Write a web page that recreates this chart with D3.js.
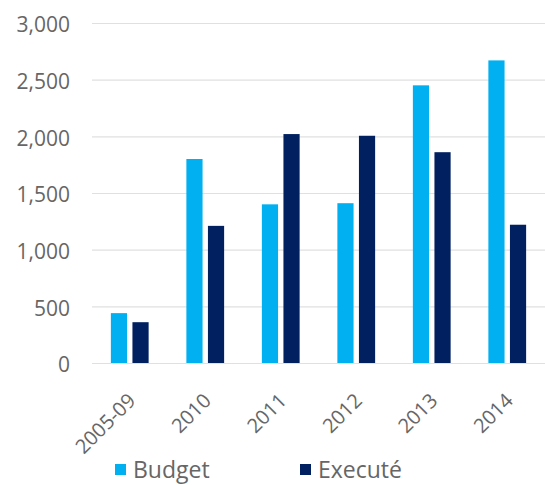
<!DOCTYPE html>
<html>
<head>
<meta charset="utf-8">
<script src="https://cdn.jsdelivr.net/npm/d3@7"></script>
<style>
	body { margin: 0; background: #fff; }
	svg { display: block; font-family: "Open Sans", sans-serif; }
</style>
</head>
<body>
<div id="bar-chart"></div>
<script>
var categories = ["2005-09", "2010", "2011", "2012", "2013", "2014"];
var seriesNames = ["Budget", "Executé"];
var budget = [440, 1800, 1400, 1410, 2450, 2670];
var execute = [360, 1210, 2020, 2005, 1860, 1220];
var yTicks = [0, 500, 1000, 1500, 2000, 2500, 3000];
var colors = ["#00b0f0", "#002060"];

var data = categories.map(function (c, i) {
	return { cat: c, values: [budget[i], execute[i]] };
});

var W = 545, H = 485;
var margin = { top: 23, right: 0, bottom: 122, left: 92 };

var svg = d3.select("#bar-chart").append("svg")
	.attr("width", W)
	.attr("height", H);

var x0 = d3.scaleBand()
	.domain(categories)
	.range([margin.left, W - margin.right])
	.paddingInner(0.5)
	.paddingOuter(0.25);

var x1 = d3.scaleBand()
	.domain(seriesNames)
	.range([0, x0.bandwidth()])
	.paddingInner(0.25);

var y = d3.scaleLinear()
	.domain([0, 3000])
	.range([H - margin.bottom, margin.top]);

// gridlines + y labels
var yAxis = d3.axisLeft(y)
	.tickValues(yTicks)
	.tickFormat(d3.format(","))
	.tickSize(-(W - margin.left - margin.right))
	.tickPadding(22);

var gy = svg.append("g")
	.attr("transform", "translate(" + margin.left + ",0)")
	.call(yAxis);
gy.select(".domain").remove();
gy.selectAll("line").attr("stroke", "#e0e0e0").attr("stroke-width", 1.2);
gy.selectAll("text")
	.attr("fill", "#666")
	.attr("font-size", "21px")
	.attr("dy", "0.42em")
	.attr("font-family", "Open Sans");

// bars
var groups = svg.selectAll(".grp")
	.data(data)
	.enter().append("g")
	.attr("class", "grp")
	.attr("transform", function (d) { return "translate(" + x0(d.cat) + ",0)"; });

groups.selectAll("rect")
	.data(function (d) { return d.values.map(function (v, i) { return { name: seriesNames[i], value: v, i: i }; }); })
	.enter().append("rect")
	.attr("x", function (d) { return x1(d.name); })
	.attr("width", x1.bandwidth())
	.attr("y", function (d) { return y(d.value); })
	.attr("height", function (d) { return y(0) - y(d.value); })
	.attr("fill", function (d) { return colors[d.i]; });

// x labels, rotated
var xAxis = d3.axisBottom(x0).tickSize(0);
var gx = svg.append("g")
	.attr("transform", "translate(0," + (H - margin.bottom) + ")")
	.call(xAxis);
gx.select(".domain").remove();
gx.selectAll("text")
	.attr("fill", "#666")
	.attr("font-size", "20px")
	.attr("font-family", "Open Sans")
	.style("text-anchor", "end")
	.attr("dy", null)
	.attr("y", 0)
	.attr("transform", "translate(7,39) rotate(-45)");

// legend
var legendX = [115, 300];
var legend = svg.selectAll(".legend")
	.data(seriesNames)
	.enter().append("g")
	.attr("class", "legend")
	.attr("transform", function (d, i) { return "translate(" + legendX[i] + ",0)"; });

legend.append("rect")
	.attr("x", 0)
	.attr("y", 464)
	.attr("width", 11)
	.attr("height", 11)
	.attr("fill", function (d, i) { return colors[i]; });

legend.append("text")
	.attr("x", 18)
	.attr("y", 478)
	.attr("fill", "#666")
	.attr("font-size", "23px")
	.text(function (d) { return d; });
</script>
</body>
</html>
